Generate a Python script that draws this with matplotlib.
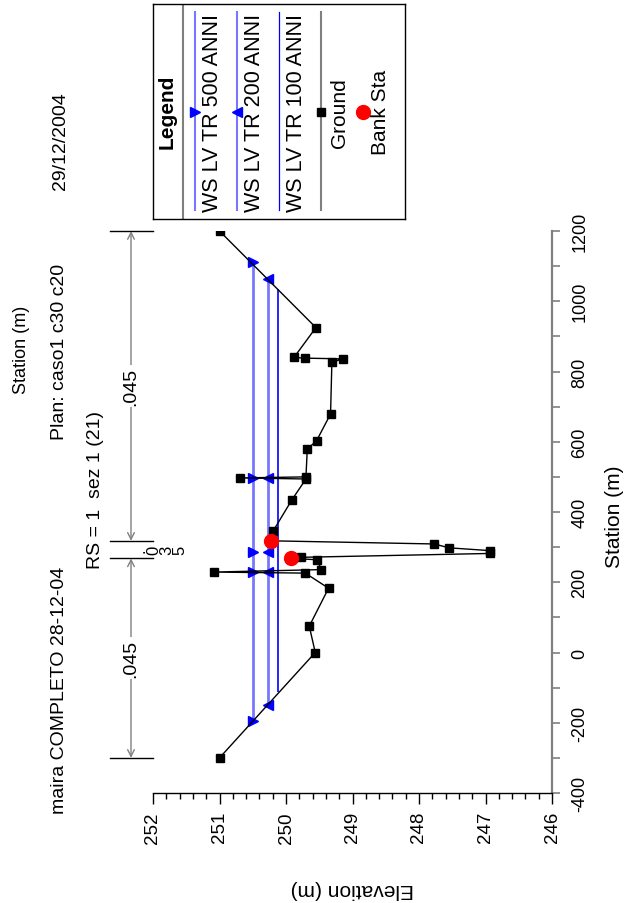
import matplotlib
matplotlib.use('Agg')
import matplotlib.pyplot as plt
from matplotlib.ticker import MultipleLocator
import matplotlib.transforms as mtrans

plt.rcParams['font.family'] = ['Liberation Sans', 'DejaVu Sans']

# ---------------- data ----------------
ground_sta = [-300, 0, 75, 183, 226, 229, 236, 264, 268, 271, 282, 290, 298, 309,
              318, 347, 435, 494, 497, 500, 579, 603, 679, 826, 836, 838, 840, 925, 1200]
ground_elev = [251.00, 249.56, 249.65, 249.36, 249.71, 251.09, 249.47, 249.53, 249.92, 249.77,
               246.93, 246.93, 247.55, 247.77, 250.23, 250.19, 249.91, 249.70, 250.69, 249.70,
               249.68, 249.54, 249.33, 249.31, 249.15, 249.71, 249.88, 249.55, 251.00]

bank_sta = [268, 318]
bank_elev = [249.92, 250.23]

ws_names = ['WS LV TR 500 ANNI', 'WS LV TR 200 ANNI', 'WS LV TR 100 ANNI']
ws_elev = [250.50, 250.27, 250.12]
ws_left = [-196, -149, -113]
ws_right = [1111, 1063, 1035]
ws_marker_sta = [[-196, 228, 285, 497, 1111], [-149, 228, 285, 497, 1063], []]

n_break_sta = [-300, 268, 318, 1200]
n_values = ['.045', '.035', '.045']

elev_ticks = [252, 251, 250, 249, 248, 247, 246]
sta_ticks = [-400, -200, 0, 200, 400, 600, 800, 1000, 1200]

title_main = 'maira COMPLETO 28-12-04'
title_plan = 'Plan: caso1 c30 c20'
title_date = '29/12/2004'
title_rs = 'RS = 1  sez 1 (21)'

# ---------------- styles ----------------
ws_colors = ['#7878ff', '#7878ff', '#0000ff']
ws_lw = [2.0, 2.0, 1.2]
ws_markers = ['>', '<', None]

W, H = 635, 904
fig = plt.figure(figsize=(W / 100, H / 100), dpi=100)


def fx(x):
    return x / W


def fy(y):
    return 1 - y / H


AX_L, AX_R, AX_T, AX_B = 153, 552, 232, 794
ax = fig.add_axes([fx(AX_L), fy(AX_B), (AX_R - AX_L) / W, (AX_B - AX_T) / H])
ax.set_xlim(elev_ticks[0], elev_ticks[-1])
ax.set_ylim(sta_ticks[0], sta_ticks[-1])

# water surfaces
for e, l, r, c, lw, m, ms in zip(ws_elev, ws_left, ws_right, ws_colors, ws_lw, ws_markers, ws_marker_sta):
    ax.plot([e, e], [l, r], color=c, lw=lw, zorder=2, solid_capstyle='butt')
    if m:
        ax.plot([e] * len(ms), ms, ls='none', marker=m, color='#0000ff', ms=7, zorder=3)

# ground
ax.plot(ground_elev, ground_sta, color='black', lw=1.0, marker='s', ms=6,
        mfc='black', mec='black', zorder=4)
# bank stations
ax.plot(bank_elev, bank_sta, ls='none', marker='o', color='red', ms=10, zorder=5)

# spines / ticks
for s in ['top', 'left']:
    ax.spines[s].set_visible(False)
ax.spines['bottom'].set_color('black')
ax.spines['bottom'].set_linewidth(1.0)
ax.spines['right'].set_color('#808080')
ax.spines['right'].set_linewidth(1.6)
ax.xaxis.set_ticks_position('bottom')
ax.yaxis.set_ticks_position('right')
ax.yaxis.set_label_position('right')
ax.set_xticks(elev_ticks)
ax.set_xticklabels([str(v) for v in elev_ticks])
ax.xaxis.set_minor_locator(MultipleLocator(0.2))
ax.set_yticks(sta_ticks)
ax.set_yticklabels([str(v) for v in sta_ticks])
ax.yaxis.set_minor_locator(MultipleLocator(100))
ax.tick_params(axis='x', which='major', length=8, width=1, color='black', labelsize=13.5,
               labelrotation=90, pad=5)
ax.tick_params(axis='x', which='minor', length=4, width=1, color='black')
ax.tick_params(axis='y', which='both', length=6, width=1.2, color='#808080', labelsize=13,
               labelrotation=90, pad=8)
for t in ax.get_yticklabels():
    t.set_verticalalignment('center')

fig.text(fx(352), fy(890), 'Elevation (m)', rotation=180, ha='center', va='center', fontsize=15)
fig.text(fx(615), fy(517), 'Station (m)', rotation=90, ha='center', va='center', fontsize=15)

# Manning n dimension lines
trans = mtrans.blended_transform_factory(ax.transAxes, ax.transData)
xa = (131 - AX_L) / (AX_R - AX_L)
x_tick0 = (110 - AX_L) / (AX_R - AX_L)
for s in n_break_sta:
    ax.plot([x_tick0, 0], [s, s], transform=trans, color='black', lw=1, clip_on=False)
for i, n in enumerate(n_values):
    s0, s1 = n_break_sta[i], n_break_sta[i + 1]
    mid = (s0 + s1) / 2
    if i == 1:
        # narrow channel: characters stacked (one per line), read across
        ax.text((160 - AX_L) / (AX_R - AX_L), mid, '\n'.join(n), transform=trans, rotation=90,
                ha='center', va='center', fontsize=12, linespacing=0.85,
                multialignment='center', clip_on=False)
        continue
    ax.annotate('', xy=(xa, s0), xytext=(xa, s1), xycoords=trans, textcoords=trans,
                arrowprops=dict(arrowstyle='<->', color='#808080', lw=1, shrinkA=0, shrinkB=0,
                                mutation_scale=12), annotation_clip=False)
    ax.text(xa, mid, n, transform=trans, rotation=90, ha='center', va='center', fontsize=14,
            bbox=dict(facecolor='white', edgecolor='none', pad=1.5), clip_on=False, zorder=6)

# titles
fig.text(fx(22), fy(350), 'Station (m)', rotation=90, ha='center', va='center', fontsize=13)
fig.text(fx(60), fy(690), title_main, rotation=90, ha='center', va='center', fontsize=14)
fig.text(fx(60), fy(352), title_plan, rotation=90, ha='center', va='center', fontsize=14)
fig.text(fx(60), fy(141), title_date, rotation=90, ha='center', va='center', fontsize=14)
fig.text(fx(95), fy(490), title_rs, rotation=90, ha='center', va='center', fontsize=14)

# legend box (drawn rotated like the rest of the chart)
lax = fig.add_axes([fx(153), fy(220), (405 - 153) / W, (220 - 5) / H])
lax.set_xlim(153, 405)
lax.set_ylim(220, 5)
lax.set_xticks([])
lax.set_yticks([])
for s in lax.spines.values():
    s.set_color('black')
    s.set_linewidth(1.0)
lax.plot([183, 183], [5, 220], color='#808080', lw=1.5)
lax.text(167, 112, 'Legend', rotation=90, ha='center', va='center', fontsize=15, fontweight='bold')
ly0, ly1, lym = 13, 211, 112.7
line_x = [195, 236.7, 279]
text_x = [212.5, 254, 296]
for name, c, lw, m, lx, tx in zip(ws_names, ws_colors, ws_lw, ws_markers, line_x, text_x):
    lax.plot([lx, lx], [ly0, ly1], color=c, lw=lw * 0.75)
    if m:
        lax.plot([lx], [lym], ls='none', marker=m, color='#0000ff', ms=7)
    lax.text(tx, lym, name, rotation=90, ha='center', va='center', fontsize=15.5)
lax.plot([321, 321], [ly0, ly1], color='#808080', lw=1.5)
lax.plot([321], [lym], ls='none', marker='s', color='black', ms=6)
lax.text(339, lym, 'Ground', rotation=90, ha='center', va='center', fontsize=15)
lax.plot([362.7], [lym], ls='none', marker='o', color='red', ms=10)
lax.text(381, lym, 'Bank Sta', rotation=90, ha='center', va='center', fontsize=15)

fig.savefig('out.png', dpi=100)
